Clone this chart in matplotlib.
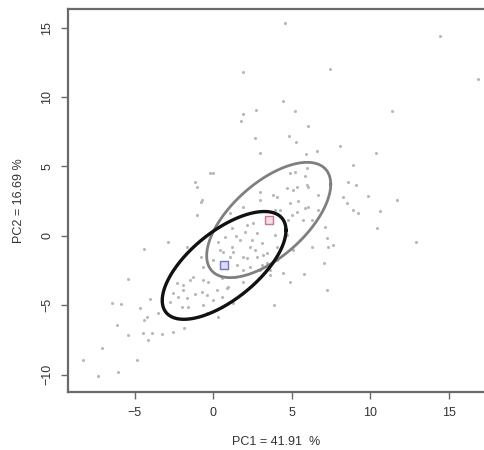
import numpy as np
import matplotlib
matplotlib.use("Agg")
import matplotlib.pyplot as plt

# PCA scores (PC1, PC2)
pc1 = [4.56, 14.44, 16.88, 1.91, 7.43, 4.46, 5.2, 11.4, 2.65, 1.91, 1.74, 2.72,
       4.84, 5.27, 6.05, 2.97, 5.9, 6.58, 8.07, 10.36, 8.87, 9.08, 8.6, 8.28,
       8.5, 8.87, 9.24, 9.87, 10.6, 11.7, 10.4, 12.9, 7.11, 7.64, 7.32, 7.05,
       6.26, 7.22, 5.78, 4.88, 3.86, 0.0, -1.06, -0.79, -1.06, -2.91, -4.42,
       -0.79, -5.46, -6.48, -5.9, -4.67, -4.25, -4.42, -6.16, -5.46, -4.46,
       -3.93, -3.25, -2.55, -1.87, -7.11, -8.28, -4.88, -7.32, -6.05, 0.32,
       -0.38, 5.2, 5.84, 5.31, 6.05, -1.66, 0.32, 0.75, 0.64, 1.17, 1.06, 1.45,
       3.82, 4.67, 2.97, 5.41, 6.05, 4.88, 6.69, 6.69, 3.93, 5.31, 4.78, 5.73,
       6.27, 7.22, 5.52, 5.1, 4.67, 3.93, 4.04, 3.4, 2.55, 2.02, 2.44, 2.66,
       2.13, 3.18, 1.91, 2.97, -4.03, -3.5, -4.14, -2.33, -1.91, -2.55, -2.23,
       -2.76, -1.7, -1.17, -0.74, -0.42, -1.59, -2.01, -0.64, 0.21, 0.0, 0.53,
       0.85, 1.27, -0.64, -1.48, 4.46, 3.61, 1.17, 2.13, 2.76, 1.7, 2.34, 3.08,
       1.27, 1.91, 2.76, 3.4, 1.49, 2.34, 3.08, 0.43, 0.0, -0.64, -1.27, -0.32,
       0.53, 1.38, 0.96, 1.91, -1.91, 4.04, 3.61, 2.97, 4.04, 4.25, 5.0, 5.84,
       5.1, 5.95, 4.88, 5.95, 1.91, 1.06, -0.74, -0.21, -1.17]
pc2 = [15.36, 14.4, 11.3, 11.83, 12.02, 9.74, 9.0, 9.02, 7.03, 8.78, 8.28, 9.07,
       7.2, 6.79, 7.92, 6.0, 5.9, 6.14, 6.5, 6.0, 5.09, 3.67, 3.86, 2.78,
       2.4, 1.87, 1.63, 2.88, 1.78, 2.6, 0.6, -0.4, 0.67, -0.65, -0.77, -1.97,
       -0.77, -3.89, -2.74, -3.29, -4.97, 4.51, 3.55, 2.47, 1.51, -0.41, -0.91,
       -1.49, -3.12, -4.8, -4.92, -5.2, -5.8, -6.05, -6.4, -7.13, -7.0,
       -7.0, -7.08, -6.94, -6.65, -8.09, -8.93, -8.93, -10.08, -9.77, -5.81,
       -5.57, 4.63, 4.32, 3.5, 3.5, -0.77, -0.41, -0.05, -1.13, -0.77, -1.53, 0.0,
       2.95, 3.43, 2.59, 2.54, 2.11, 2.35, 2.95, 1.87, 1.87, 1.75, 1.15, 1.15,
       1.15, -0.17, -0.29, -1.0, 0.07, 0.07, -0.77, -1.97, 0.91, 0.31, -0.29, -1.0,
       -1.6, -1.37, -2.45, -2.45, -4.56, -5.57, -7.49, -3.41, -3.53, -4.13, -4.37,
       -4.73, -4.49, -4.18, -4.01, -4.25, -5.09, -5.09, -4.97, -3.89, -4.61, -4.37,
       -3.77, -4.85, -3.17, -3.17, -2.69, -2.81, 0.55, 0.79, 0.19, -0.29, -0.77, -0.53,
       -1.13, -1.49, -1.49, -1.25, -2.09, -2.21, -2.09, -1.0, -1.73, -2.21, -2.93, -3.29,
       -3.05, -2.93, -3.65, -3.29, -3.89, -1.73, -2.45, 3.19, 2.83, 1.87, 1.51, 1.99,
       3.31, 3.67, 4.51, 4.87, 2.11, 1.63, 2.59, 4.51, 3.91]

# group centroids and ellipse spreads
group_cx = [3.53, 0.69]
group_cy = [1.15, -2.12]
group_hx = [3.95, 3.94]
group_hy = [4.15, 3.88]
group_rho = [0.62, 0.65]
ell_colors = ["#7f7f7f", "#111111"]
ell_widths = [2.0, 2.4]
cent_edge = ["#c87890", "#7474cc"]
cent_face = ["#f4dde4", "#dcdcf4"]

fig = plt.figure(figsize=(4.84, 4.5), dpi=100)
ax = fig.add_axes([0.1415, 0.1296, 0.8585, 0.8511])

ax.scatter(pc1, pc2, s=5, color="#b8b8b8", linewidths=0, zorder=1)

t = np.linspace(0, 2 * np.pi, 300)
for i in range(2):
    phi = np.arccos(group_rho[i])
    ex = group_cx[i] + group_hx[i] * np.cos(t)
    ey = group_cy[i] + group_hy[i] * np.cos(t - phi)
    ax.plot(ex, ey, color=ell_colors[i], lw=ell_widths[i], zorder=3)
    ax.scatter(group_cx[i], group_cy[i], marker="s", s=32,
               facecolor=cent_face[i], edgecolor=cent_edge[i], linewidths=1.0, zorder=4)

ax.set_xlim(-9.22, 17.24)
ax.set_ylim(-11.21, 16.36)
ax.set_xticks([-5, 0, 5, 10, 15])
ax.set_yticks([-10, -5, 0, 5, 10, 15])

for side in ["left", "top", "bottom"]:
    ax.spines[side].set_color("#6a6a6a")
    ax.spines[side].set_linewidth(1.6)
ax.spines["right"].set_visible(False)

ax.tick_params(axis="both", direction="out", length=5, width=1.0, color="#6a6a6a",
               labelsize=9, labelcolor="#333333", pad=6)
for lab in ax.get_yticklabels():
    lab.set_rotation(90)
    lab.set_va("center")
for lab in ax.get_xticklabels() + ax.get_yticklabels():
    lab.set_family(["Liberation Sans", "DejaVu Sans"])

ax.set_xlabel("PC1 = 41.91  %", fontsize=9, color="#333333",
              family=["Liberation Sans", "DejaVu Sans"], labelpad=12)
ax.set_ylabel("PC2 = 16.69 %", fontsize=9, color="#333333",
              family=["Liberation Sans", "DejaVu Sans"], labelpad=12)

fig.savefig("out.png", dpi=100)
